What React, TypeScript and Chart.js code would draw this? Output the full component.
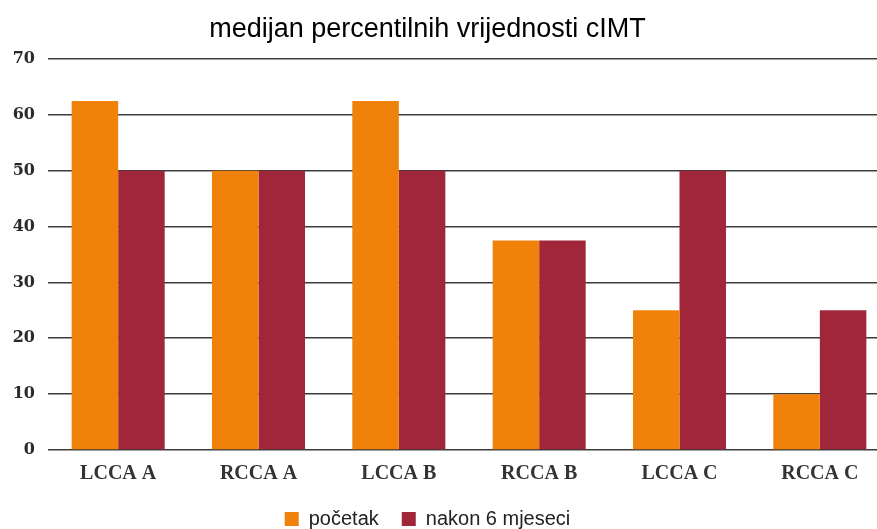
import React, { useEffect, useRef } from 'react';
import { Chart, registerables } from 'chart.js';

Chart.register(...registerables);

const chartTitle = 'medijan percentilnih vrijednosti cIMT';
const categories = ['LCCA A', 'RCCA A', 'LCCA B', 'RCCA B', 'LCCA C', 'RCCA C'];
const seriesNames = ['početak', 'nakon 6 mjeseci'];
const pocetak = [62.5, 50, 62.5, 37.5, 25, 10];
const nakon6 = [50, 50, 50, 37.5, 50, 25];
const yMin = 0;
const yMax = 70;
const yStep = 10;

const ORANGE = '#F0820C';
const RED = '#A0273A';

export default function App() {
  const ref = useRef<HTMLCanvasElement | null>(null);

  useEffect(() => {
    if (!ref.current) return;
    const chart = new Chart(ref.current, {
      type: 'bar',
      data: {
        labels: categories,
        datasets: [
          { label: seriesNames[0], data: pocetak, backgroundColor: ORANGE, borderWidth: 0 },
          { label: seriesNames[1], data: nakon6, backgroundColor: RED, borderWidth: 0 },
        ],
      },
      options: {
        responsive: false,
        animation: false,
        layout: { padding: 0 },
        datasets: { bar: { categoryPercentage: 0.663, barPercentage: 1.0 } },
        plugins: {
          title: {
            display: true,
            text: chartTitle,
            color: '#000',
            font: { family: 'Liberation Sans', size: 27, weight: 'normal' },
            padding: { top: 13, bottom: 13.6 },
          },
          legend: {
            position: 'bottom',
            labels: {
              boxWidth: 14,
              boxHeight: 14,
              padding: 23,
              color: '#222',
              font: { family: 'Liberation Sans', size: 20 },
            },
          },
          tooltip: { enabled: false },
        },
        scales: {
          x: {
            grid: { display: false, drawTicks: false },
            border: { display: false },
            ticks: {
              color: '#333',
              padding: 12,
              font: { family: 'Liberation Serif', size: 20, weight: 'bold' },
            },
            afterFit: (s: any) => { s.height = 36; },
          },
          y: {
            min: yMin,
            max: yMax,
            ticks: {
              stepSize: yStep,
              color: '#2a2a2a',
              padding: 13,
              font: { family: 'DejaVu Serif', size: 16, weight: 'bold' },
            },
            grid: { color: '#3c3c3c', lineWidth: 1.6, drawTicks: false },
            border: { display: false },
            afterFit: (s: any) => { s.width = 83; },
          },
        },
      },
    });
    return () => chart.destroy();
  }, []);

  return (
    <div style={{ position: 'fixed', left: 0, top: 0, width: 877, height: 529, overflow: 'hidden', background: '#fff' }}>
      <canvas ref={ref} width={925} height={539} style={{ position: 'absolute', left: -35, top: 0 }} />
    </div>
  );
}
